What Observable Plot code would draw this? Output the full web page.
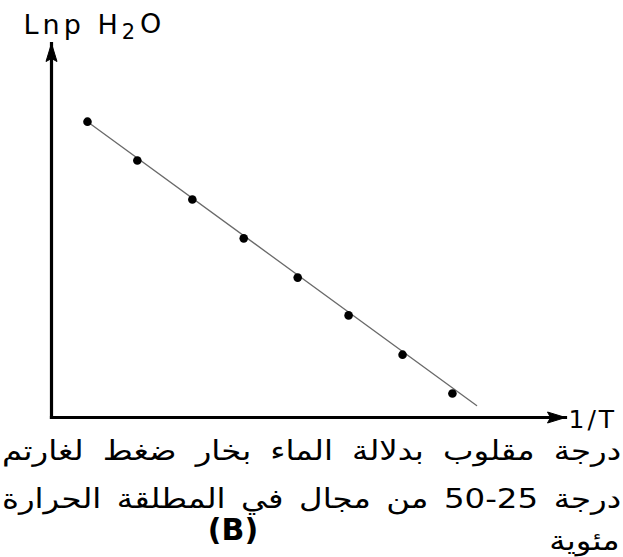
<!DOCTYPE html>
<html><head><meta charset="utf-8">
<script src="https://cdn.jsdelivr.net/npm/d3@7"></script>
<script src="https://cdn.jsdelivr.net/npm/@observablehq/plot@0.6"></script>
<style>
body{margin:0;background:#fff;}
#wrap{position:relative;width:623px;height:557px;overflow:hidden;background:#fff;}
#wrap svg{position:absolute;left:0;top:0;}
.cap{position:absolute;font-family:"DejaVu Sans";font-size:27px;line-height:30px;color:#000;white-space:nowrap;}
.row{left:2px;width:516px;display:flex;flex-direction:row;justify-content:space-between;direction:ltr;transform:scaleX(1.2);transform-origin:0 0;}
.row span{direction:rtl;}
.wide{transform:scaleX(1.2);transform-origin:100% 0;}
</style></head><body><div id="wrap"></div>
<script>
// data (arbitrary units, no ticks in original)
const invT = [0.070, 0.167, 0.274, 0.374, 0.479, 0.578, 0.683, 0.780];
const lnP  = [0.791, 0.687, 0.583, 0.479, 0.374, 0.273, 0.168, 0.064];
const fitX = [0.070, 0.827];
const fitY = [0.791, 0.032];
const axisLabelX = "1/T";
const axisLabelY = ["Lnp H", "2", "O"];
const captionLine1 = ["لغارتم", "ضغط", "بخار", "الماء", "بدلالة", "مقلوب", "درجة"];
const captionLine2 = ["الحرارة", "المطلقة", "في", "مجال", "من", "50-25", "درجة"];
const captionLabel = "(B)";
const captionLine3 = "مئوية";

const points = invT.map((x, i) => ({x, y: lnP[i]}));
const fit = fitX.map((x, i) => ({x, y: fitY[i]}));
const axes = [{x1: 0, y1: 0, x2: 0, y2: 1, rot: 0}, {x1: 0, y1: 0, x2: 1, y2: 0, rot: 90}];

// narrow filled arrowhead, tip at the anchor point, pointing up
const arrowHead = {
  draw(ctx) {
    ctx.moveTo(0, 0);
    ctx.lineTo(5.5, 18);
    ctx.lineTo(0, 15);
    ctx.lineTo(-5.5, 18);
    ctx.closePath();
  }
};

const svg = Plot.plot({
  width: 623, height: 432,
  marginLeft: 0, marginRight: 0, marginTop: 0, marginBottom: 0,
  x: {domain: [0, 1], range: [51, 565], axis: null},
  y: {domain: [0, 1], range: [417, 43], axis: null},
  style: {fontFamily: "DejaVu Sans", background: "#fff"},
  marks: [
    Plot.line(fit, {x: "x", y: "y", stroke: "#6a6a6a", strokeWidth: 1.3}),
    Plot.dot(points, {x: "x", y: "y", r: 4.3, fill: "#000", stroke: "none"}),
    Plot.link(axes, {x1: "x1", y1: "y1", x2: "x2", y2: "y2", stroke: "#000", strokeWidth: 3.2,
      strokeLinecap: "square"}),
    Plot.dot(axes, {x: "x2", y: "y2", symbol: arrowHead, rotate: "rot", r: 5, fill: "#000", stroke: "#000", strokeWidth: 1}),
    Plot.text([axisLabelX], {x: () => 1, y: () => 0, text: d => d, textAnchor: "start", lineAnchor: "middle",
      dx: 3, dy: 2, fontSize: 25, fill: "#000"}),
    Plot.text([axisLabelY.join("")], {x: () => 0, y: () => 1, text: d => d, textAnchor: "start", lineAnchor: "bottom",
      dx: -28, dy: -10, fontSize: 27, fill: "#000"})
  ]
});
const texts = d3.select(svg).selectAll("text");
texts.filter(function() { return this.textContent === axisLabelX; }).attr("letter-spacing", "3");
texts.filter(function() { return this.textContent === axisLabelY.join(""); }).each(function() {
  const t = d3.select(this);
  t.attr("letter-spacing", "4").text(null);
  t.append("tspan").text(axisLabelY[0]);
  t.append("tspan").attr("font-size", 21).attr("dy", "0.25em").attr("dx", "0").text(axisLabelY[1]);
  t.append("tspan").attr("dy", "-0.2em").attr("dx", "1").text(axisLabelY[2]);
});
const wrap = document.getElementById("wrap");
wrap.appendChild(svg);

function addCap(cls, html, style) {
  const d = document.createElement("div");
  d.className = cls;
  d.innerHTML = html;
  Object.assign(d.style, style);
  wrap.appendChild(d);
}
addCap("cap row", captionLine1.map(w => `<span>${w}</span>`).join(""), {top: "436px"});
addCap("cap row", captionLine2.map(w => `<span>${w}</span>`).join(""), {top: "484px"});
addCap("cap", captionLabel, {top: "515px", left: "183px", width: "100px", textAlign: "center", fontWeight: "bold", fontSize: "30px"});
addCap("cap wide", captionLine3, {top: "526px", right: "3px", direction: "rtl"});
</script></body></html>
